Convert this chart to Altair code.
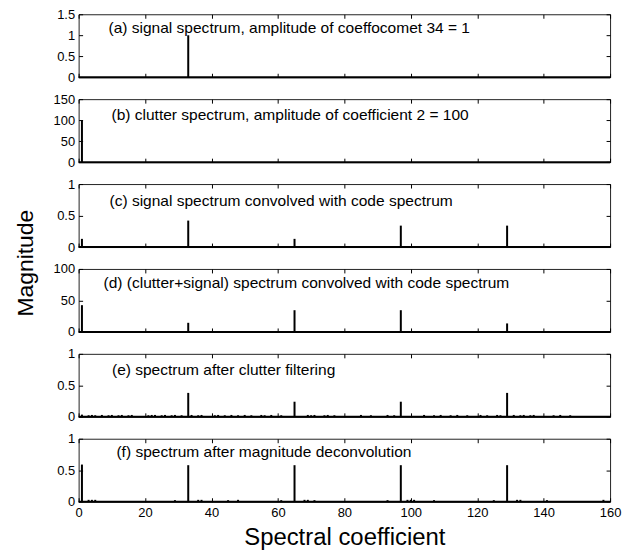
import altair as alt
import pandas as pd

FONT = "Liberation Sans"

# Shared horizontal axis
x_domain = [0, 160]
x_ticks = [0, 20, 40, 60, 80, 100, 120, 140, 160]

# Panel captions
panel_labels = [
    "(a) signal spectrum, amplitude of coeffocomet  34 = 1",
    "(b) clutter spectrum, amplitude of coefficient 2 = 100",
    "(c) signal spectrum convolved with code spectrum",
    "(d) (clutter+signal) spectrum convolved with code spectrum",
    "(e) spectrum after clutter filtering",
    "(f) spectrum after magnitude deconvolution",
]

# Vertical ranges and ticks per panel
y_domains = [[0, 1.5], [0, 150], [0, 1], [0, 100], [0, 1], [0, 1]]
y_ticks = [
    [0, 0.5, 1, 1.5],
    [0, 50, 100, 150],
    [0, 0.5, 1],
    [0, 50, 100],
    [0, 0.5, 1],
    [0, 0.5, 1],
]

# (a) signal spectrum
a_pos = [33]
a_mag = [1.0]

# (b) clutter spectrum
b_pos = [1]
b_mag = [100]

# (c) signal convolved with code spectrum
c_pos = [1, 33, 65, 97, 129]
c_mag = [0.13, 0.42, 0.13, 0.34, 0.34]

# (d) clutter + signal convolved with code spectrum
d_pos = [1, 33, 65, 97, 129]
d_mag = [42.5, 14.5, 34.5, 34.5, 13.5]

# (e) after clutter filtering: main lines plus low-level residue
e_pos = [33, 65, 97, 129,
         1, 3, 4, 5, 7, 9, 10, 12, 13, 15, 16, 21, 22, 23, 25, 26, 28, 29,
         31, 34, 36, 37, 41, 42, 44, 46, 48, 50, 52, 55, 56, 58, 61, 69, 70,
         71, 74, 75, 77, 85, 88, 93, 95, 104, 107, 109, 112, 114, 117, 121,
         123, 126, 127, 131, 133, 134, 136, 137, 143, 145, 148]
e_mag = [0.38, 0.24, 0.24, 0.38,
         0.035, 0.025, 0.03, 0.025, 0.03, 0.025, 0.03, 0.025, 0.03, 0.025,
         0.03, 0.025, 0.03, 0.03, 0.025, 0.03, 0.025, 0.03, 0.025, 0.03,
         0.025, 0.03, 0.025, 0.03, 0.025, 0.03, 0.025, 0.03, 0.025, 0.03,
         0.025, 0.03, 0.025, 0.03, 0.025, 0.03, 0.025, 0.03, 0.025, 0.03,
         0.025, 0.03, 0.025, 0.03, 0.025, 0.03, 0.025, 0.03, 0.025, 0.03,
         0.025, 0.03, 0.025, 0.03, 0.025, 0.03, 0.025, 0.03, 0.025, 0.03,
         0.025]

# (f) after magnitude deconvolution
f_pos = [1, 33, 65, 97, 129,
         3, 4, 5, 29, 36, 37, 45, 48, 61, 68, 69, 71, 93, 99, 100, 101, 107,
         125, 132, 133, 141, 158]
f_mag = [0.59, 0.58, 0.58, 0.58, 0.58,
         0.03, 0.03, 0.03, 0.025, 0.03, 0.03, 0.025, 0.03, 0.025, 0.03,
         0.03, 0.025, 0.025, 0.03, 0.03, 0.03, 0.025, 0.025, 0.03, 0.03,
         0.025, 0.03]

spectra = [(a_pos, a_mag), (b_pos, b_mag), (c_pos, c_mag),
           (d_pos, d_mag), (e_pos, e_mag), (f_pos, f_mag)]

# Caption placement inside each panel (pixels from the panel's top-left)
caption_xy = [(30, 18.5), (33, 21), (31, 21.7), (25, 18.7), (33.5, 21.6), (38, 18)]

PANEL_W = 534
PANEL_H = 63.3
TICK = 4


def make_panel(i):
    last = i == len(spectra) - 1
    pos, mag = spectra[i]
    df = pd.DataFrame({"k": pos, "m": mag, "z": [0] * len(pos)})

    xs = alt.Scale(domain=x_domain, nice=False, zero=False)
    ys = alt.Scale(domain=y_domains[i], nice=False)

    bottom_kw = dict(orient="bottom", values=x_ticks, tickSize=TICK, offset=-TICK,
                     domain=False, grid=False, labels=last, labelFlush=False,
                     labelFontSize=13, labelPadding=5, title=None)
    if last:
        bottom_kw.update(title="Spectral coefficient", titleFontSize=24,
                         titleFontWeight="normal", titlePadding=6)
    left_kw = dict(orient="left", values=y_ticks[i], tickSize=TICK, offset=-TICK,
                   domain=False, grid=False, labelFlush=False, labelFontSize=13,
                   labelPadding=4, format="~f", title=None)
    if i == 2:
        left_kw.update(title="Magnitude", titleFontSize=23, titleFontWeight="normal",
                       titleX=-50, titleY=79, titleBaseline="alphabetic")
    top_ax = alt.Axis(orient="top", values=x_ticks, tickSize=TICK, offset=-TICK,
                      domain=False, grid=False, labels=False, title=None)
    right_ax = alt.Axis(orient="right", values=y_ticks[i], tickSize=TICK, offset=-TICK,
                        domain=False, grid=False, labels=False, title=None)

    lines = alt.Chart(df).mark_rule(color="black", strokeWidth=2).encode(
        x=alt.X("k:Q", scale=xs, axis=alt.Axis(**bottom_kw)),
        y=alt.Y("m:Q", scale=ys, axis=alt.Axis(**left_kw)),
        y2="z:Q",
    )

    base_df = pd.DataFrame({"a": [x_domain[0]], "b": [x_domain[1]], "z": [0]})
    baseline = alt.Chart(base_df).mark_rule(color="black", strokeWidth=2).encode(
        x=alt.X("a:Q", scale=xs, axis=top_ax),
        x2="b:Q",
        y=alt.Y("z:Q", scale=ys, axis=right_ax),
    )

    cx, cy = caption_xy[i]
    caption = alt.Chart(pd.DataFrame({"t": [panel_labels[i]]})).mark_text(
        align="left", baseline="alphabetic", font=FONT, fontSize=15.6, color="black"
    ).encode(text="t:N", x=alt.value(cx), y=alt.value(cy))

    return (
        alt.layer(lines, baseline, caption)
        .resolve_scale(x="independent", y="independent")
        .resolve_axis(x="independent", y="independent")
        .properties(width=PANEL_W, height=PANEL_H)
    )


chart = (
    alt.vconcat(*[make_panel(i) for i in range(len(spectra))], spacing=21.3, bounds="flush")
    .properties(padding={"left": 14, "top": 6, "right": 3, "bottom": 4},
                background="white")
    .configure_view(stroke="#222222", strokeWidth=1)
    .configure_axis(labelFont=FONT, titleFont=FONT, labelColor="black",
                    titleColor="black", tickColor="black", tickWidth=1)
)

chart.save("out.html", embed_options={"renderer": "svg", "actions": False})
